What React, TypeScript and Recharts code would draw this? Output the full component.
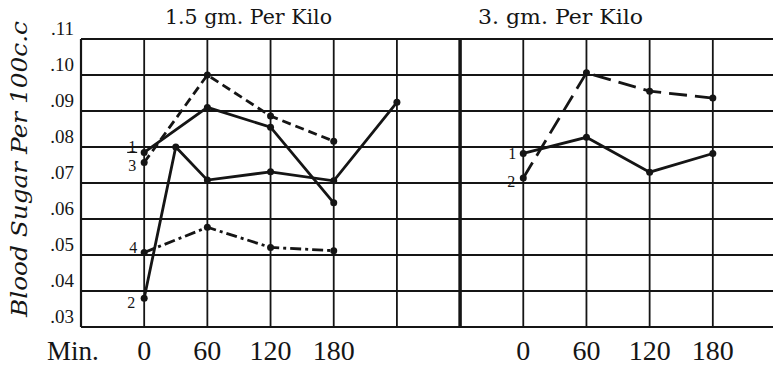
import React from 'react';
import { LineChart, Line, XAxis, YAxis, CartesianGrid, ReferenceLine } from 'recharts';

// minutes after dose
const leftMinutes = [0, 60, 120, 180];
const leftMinutes2 = [0, 30, 60, 120, 180, 240];
const rightMinutes = [0, 60, 120, 180];

// blood sugar, per 100 c.c.
const left1 = [0.0785, 0.091, 0.0855, 0.0645];
const left2 = [0.038, 0.08, 0.0708, 0.0731, 0.0706, 0.0924];
const left3 = [0.0757, 0.1, 0.0886, 0.0816];
const left4 = [0.0507, 0.0577, 0.0521, 0.0512];
const right1 = [0.0782, 0.0827, 0.073, 0.0782];
const right2 = [0.0714, 0.1006, 0.0955, 0.0936];

const yTicks = [0.03, 0.04, 0.05, 0.06, 0.07, 0.08, 0.09, 0.1, 0.11];
const xLabels = [0, 60, 120, 180];
const panelTitles = ['1.5 gm. Per Kilo', '3. gm. Per Kilo'];

// right panel sits after the left one on a shared minute axis
const PANEL_SHIFT = 360;
const xGrid = [-60, 0, 60, 120, 180, 240, 300, 360, 420, 480, 540, 600];
const labelled = [...xLabels, ...xLabels.map((m) => m + PANEL_SHIFT)];

const toRows = (mins: number[], vals: number[], shift = 0) =>
  mins.map((m, i) => ({ m: m + shift, v: vals[i] }));

const INK = '#151515';
const dot = { r: 3.5, fill: INK, stroke: INK, strokeWidth: 0 };

const startLabel = (text: string, dx: number, dy: number, bar = false) => (p: any) => {
  if (p.index !== 0) return <g />;
  return (
    <g>
      <text
        x={p.x + dx}
        y={p.y + dy}
        textAnchor="middle"
        dominantBaseline="central"
        fontFamily="Liberation Serif"
        fontSize={16}
        fill={INK}
      >
        {text}
      </text>
      {bar && <line x1={p.x + dx - 5} x2={p.x + dx + 5} y1={p.y + dy + 6} y2={p.y + dy + 6} stroke={INK} strokeWidth={1.2} />}
    </g>
  );
};

const YTick = (p: any) => (
  <text x={p.x} y={p.y - 4} textAnchor="end" fontFamily="Liberation Serif" fontSize={19} fill={INK}>
    {p.payload.value.toFixed(2).slice(1)}
  </text>
);

const XTick = (p: any) => {
  const v = p.payload.value;
  if (!labelled.includes(v)) return <g />;
  return (
    <text x={p.x} y={360} textAnchor="middle" fontFamily="Liberation Sans Narrow" fontSize={28} fill={INK}>
      {v >= 300 ? v - PANEL_SHIFT : v}
    </text>
  );
};

export default function App() {
  return (
    <div style={{ position: 'absolute', left: 0, top: 0, width: 773, height: 366, overflow: 'hidden', background: '#fff' }}>
      <LineChart width={780} height={366} margin={{ top: 39, right: 4, bottom: 0, left: 0 }}>
        <CartesianGrid stroke={INK} strokeWidth={1.8} />
        <XAxis
          type="number"
          dataKey="m"
          domain={[-60, 600]}
          ticks={xGrid}
          allowDataOverflow
          axisLine={false}
          tickLine={false}
          height={39}
          tick={<XTick />}
          interval={0}
        />
        <YAxis
          type="number"
          domain={[0.03, 0.11]}
          ticks={yTicks}
          axisLine={false}
          tickLine={false}
          tickSize={0}
          tickMargin={7}
          width={81}
          tick={<YTick />}
          interval={0}
        />
        <ReferenceLine x={-60} stroke={INK} strokeWidth={2.2} />
        <ReferenceLine y={0.03} stroke={INK} strokeWidth={2.2} />
        <ReferenceLine y={0.11} stroke={INK} strokeWidth={2} />
        <ReferenceLine x={300} stroke={INK} strokeWidth={3.5} />

        <Line data={toRows(leftMinutes, left1)} dataKey="v" stroke={INK} strokeWidth={2.8} dot={dot} isAnimationActive={false} label={startLabel('1', -12, -6, true)} />
        <Line data={toRows(leftMinutes2, left2)} dataKey="v" stroke={INK} strokeWidth={2.8} dot={dot} isAnimationActive={false} label={startLabel('2', -13, 4)} />
        <Line data={toRows(leftMinutes, left3)} dataKey="v" stroke={INK} strokeWidth={2.8} strokeDasharray="9 5" dot={dot} isAnimationActive={false} label={startLabel('3', -12, 3)} />
        <Line data={toRows(leftMinutes, left4)} dataKey="v" stroke={INK} strokeWidth={2.8} strokeDasharray="11 4 3 4" dot={dot} isAnimationActive={false} label={startLabel('4', -11, -5)} />
        <Line data={toRows(rightMinutes, right1, PANEL_SHIFT)} dataKey="v" stroke={INK} strokeWidth={2.8} dot={dot} isAnimationActive={false} label={startLabel('1', -11, 0)} />
        <Line data={toRows(rightMinutes, right2, PANEL_SHIFT)} dataKey="v" stroke={INK} strokeWidth={2.8} strokeDasharray="18 8" dot={dot} isAnimationActive={false} label={startLabel('2', -12, 4)} />
      </LineChart>

      <svg width={773} height={366} style={{ position: 'absolute', left: 0, top: 0, pointerEvents: 'none' }}>
        <text x={165} y={24} fontFamily="DejaVu Serif" fontSize={20} fill={INK} textLength={167} lengthAdjust="spacingAndGlyphs">
          {panelTitles[0]}
        </text>
        <text x={478} y={24} fontFamily="DejaVu Serif" fontSize={20} fill={INK} textLength={165} lengthAdjust="spacingAndGlyphs">
          {panelTitles[1]}
        </text>
        <text x={47} y={360} fontFamily="Liberation Serif" fontSize={27} fill={INK}>
          Min.
        </text>
        <text
          x={0}
          y={0}
          transform="translate(27,169) rotate(-90)"
          textAnchor="middle"
          fontFamily="DejaVu Serif"
          fontStyle="italic"
          fontSize={22}
          fill={INK}
          textLength={296}
          lengthAdjust="spacingAndGlyphs"
        >
          Blood Sugar Per 100c.c
        </text>
      </svg>
    </div>
  );
}
